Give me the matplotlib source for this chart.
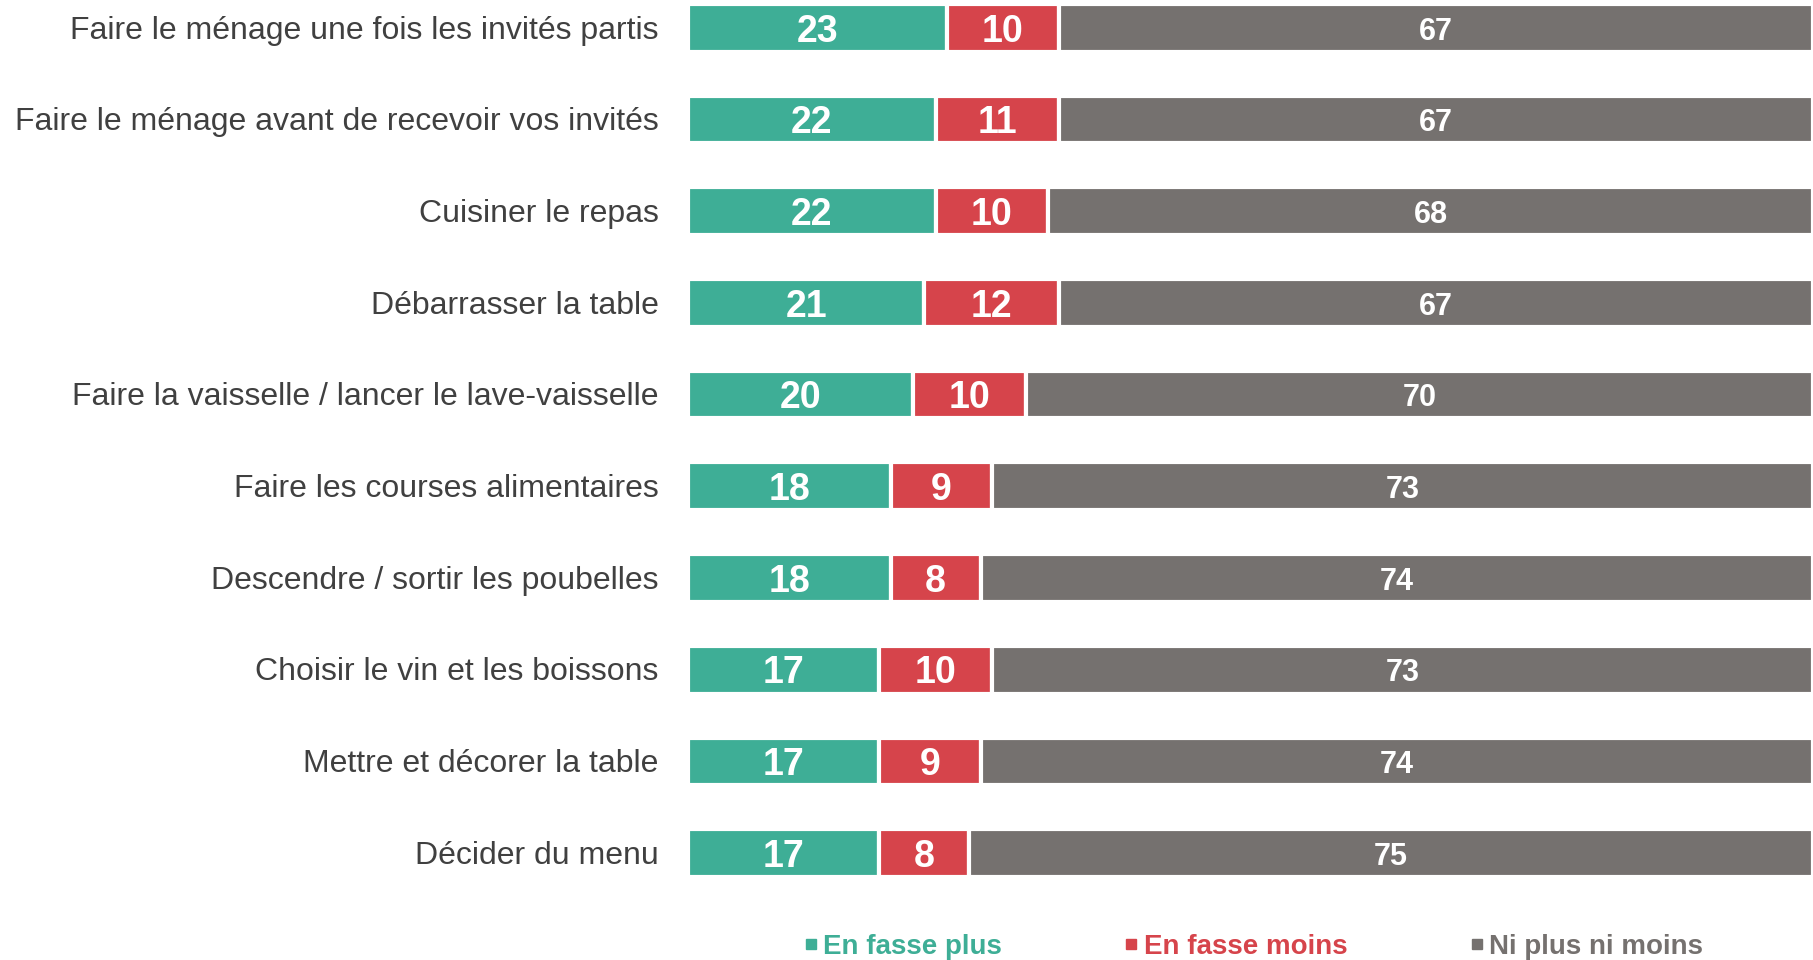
import numpy as np
import matplotlib

matplotlib.use("Agg")
import matplotlib.pyplot as plt
from matplotlib.lines import Line2D

plt.rcParams["font.family"] = ["Liberation Sans", "DejaVu Sans"]

# data, top row first
activities = [
    "Faire le ménage une fois les invités partis",
    "Faire le ménage avant de recevoir vos invités",
    "Cuisiner le repas",
    "Débarrasser la table",
    "Faire la vaisselle / lancer le lave-vaisselle",
    "Faire les courses alimentaires",
    "Descendre / sortir les poubelles",
    "Choisir le vin et les boissons",
    "Mettre et décorer la table",
    "Décider du menu",
]
plus = [23, 22, 22, 21, 20, 18, 18, 17, 17, 17]
moins = [10, 11, 10, 12, 10, 9, 8, 10, 9, 8]
ni = [67, 67, 68, 67, 70, 73, 74, 73, 74, 75]
series_names = ["En fasse plus", "En fasse moins", "Ni plus ni moins"]

colors = ["#3eae96", "#d6444b", "#75716f"]
label_sizes = [27, 27, 22]

W, H = 1813, 960
fig = plt.figure(figsize=(W / 100, H / 100), dpi=100)
ax = fig.add_axes([688 / W, 0, 1 - 688 / W, 1])

y = np.arange(len(activities))
left = np.zeros(len(activities))
for vals, col, fs in zip([plus, moins, ni], colors, label_sizes):
    vals = np.asarray(vals, float)
    ax.barh(y, vals, left=left, height=0.52, color=col,
            edgecolor="white", linewidth=3)
    for yi, l, v in zip(y, left, vals):
        ax.text(l + v / 2, yi + 0.04, f"{int(v)}", ha="center", va="center",
                color="white", fontsize=fs, fontweight="bold")
    left += vals

ax.set_xlim(0, 100)
ax.set_ylim(10.167, -0.305)
ax.axis("off")

# category labels, right aligned left of the bars
for yi, name in zip(y, activities):
    ax.text(-2.6, yi + 0.03, name, ha="right", va="center", fontsize=23,
            color="#404040", clip_on=False)

handles = [Line2D([], [], marker="s", linestyle="none", markersize=7,
                  color=c) for c in colors]
leg = fig.legend(handles, series_names, loc="center", ncol=3,
                 bbox_to_anchor=(0.6906, 0.0135), frameon=False,
                 handletextpad=0.1, columnspacing=4.3, handlelength=0.7,
                 prop={"size": 20, "weight": "bold"})
for t, c in zip(leg.get_texts(), colors):
    t.set_color(c)

fig.savefig("out.png", dpi=100)
